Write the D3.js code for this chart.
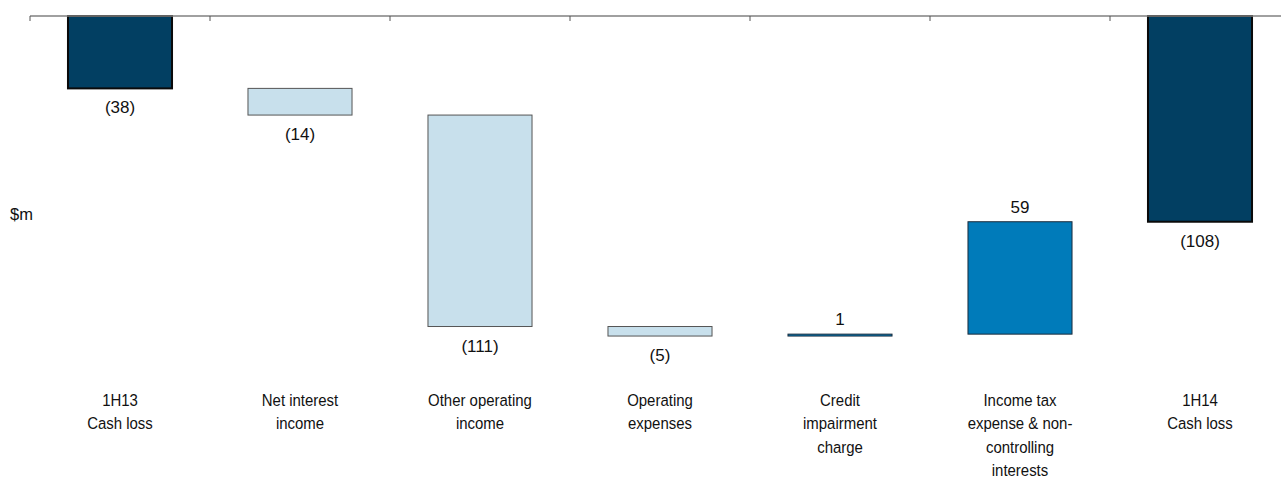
<!DOCTYPE html>
<html>
<head>
<meta charset="utf-8">
<script src="https://cdn.jsdelivr.net/npm/d3@7"></script>
<style>
html,body{margin:0;padding:0;background:#fff;}
svg{display:block;font-family:"Liberation Sans",Arial,sans-serif;}
</style>
</head>
<body>
<svg id="chart" width="1281" height="479"></svg>
<script>
const categories = ["1H13 Cash loss","Net interest income","Other operating income","Operating expenses","Credit impairment charge","Income tax expense & non-controlling interests","1H14 Cash loss"];
const labelLines = [["1H13","Cash loss"],["Net interest","income"],["Other operating","income"],["Operating","expenses"],["Credit","impairment","charge"],["Income tax","expense & non-","controlling","interests"],["1H14","Cash loss"]];
const values = [-38,-14,-111,-5,1,59,-108];
const kinds = ["total","delta","delta","delta","delta","delta","total"];
const valueLabels = ["(38)","(14)","(111)","(5)","1","59","(108)"];
const unitLabel = "$m";

const svg = d3.select("#chart");
const x = d3.scaleBand().domain(categories).range([30,1290]).paddingInner(0.422).paddingOuter(0.211);
const y = d3.scaleLinear().domain([0,-200]).range([16,16+200*1.905]);

let run = 0;
const bars = categories.map((c,i)=>{
  let start, end;
  if(kinds[i]==="total"){ start=0; end=values[i]; run=values[i]; }
  else { start=run; end=run+values[i]; run=end; }
  return {c, i, start, end, v:values[i], kind:kinds[i]};
});

const fillFor = d => d.kind==="total" ? "#023F62" : (d.v<0 ? "#C8E0EC" : "#007BBA");
const strokeFor = d => d.kind==="total" ? "#0a0a0a" : (d.v<0 ? "#555" : "#1a2a3a");
const strokeW = d => d.kind==="total" ? 2 : 1;

svg.append("g").selectAll("rect").data(bars).join("rect")
  .attr("x", d=>x(d.c))
  .attr("width", x.bandwidth())
  .attr("y", d=>y(Math.max(d.start,d.end)))
  .attr("height", d=>Math.max(1, Math.abs(y(d.end)-y(d.start))))
  .attr("fill", fillFor)
  .attr("stroke", strokeFor)
  .attr("stroke-width", strokeW);

const axisG = svg.append("g");
axisG.append("line").attr("x1",30).attr("x2",1281).attr("y1",y(0)).attr("y2",y(0))
  .attr("stroke","#808080").attr("stroke-width",1.5);
d3.range(categories.length+1).forEach(i=>{
  const tx = x.range()[0] + i*x.step();
  axisG.append("line").attr("x1",tx).attr("x2",tx).attr("y1",y(0)).attr("y2",y(0)+5)
    .attr("stroke","#555").attr("stroke-width",1);
});

svg.append("g").selectAll("text").data(bars).join("text")
  .attr("x", d=>x(d.c)+x.bandwidth()/2)
  .attr("y", d=> d.v<0 ? y(Math.min(d.start,d.end))+ 25 : y(Math.max(d.start,d.end)) - 9)
  .attr("text-anchor","middle")
  .attr("font-size",17)
  .attr("fill","#111")
  .text((d,i)=>valueLabels[i]);

const catG = svg.append("g");
categories.forEach((c,i)=>{
  const cx = x(c)+x.bandwidth()/2;
  const t = catG.append("text")
    .attr("transform", `translate(${cx},406) scale(0.88,1)`)
    .attr("text-anchor","middle")
    .attr("font-size",17)
    .attr("fill","#111");
  labelLines[i].forEach((ln,j)=>{
    t.append("tspan").attr("x", 0).attr("y", j*23.3).text(ln);
  });
});

svg.append("text").attr("x",10).attr("y",220).attr("font-size",16.5).attr("fill","#111").text(unitLabel);
</script>
</body>
</html>
